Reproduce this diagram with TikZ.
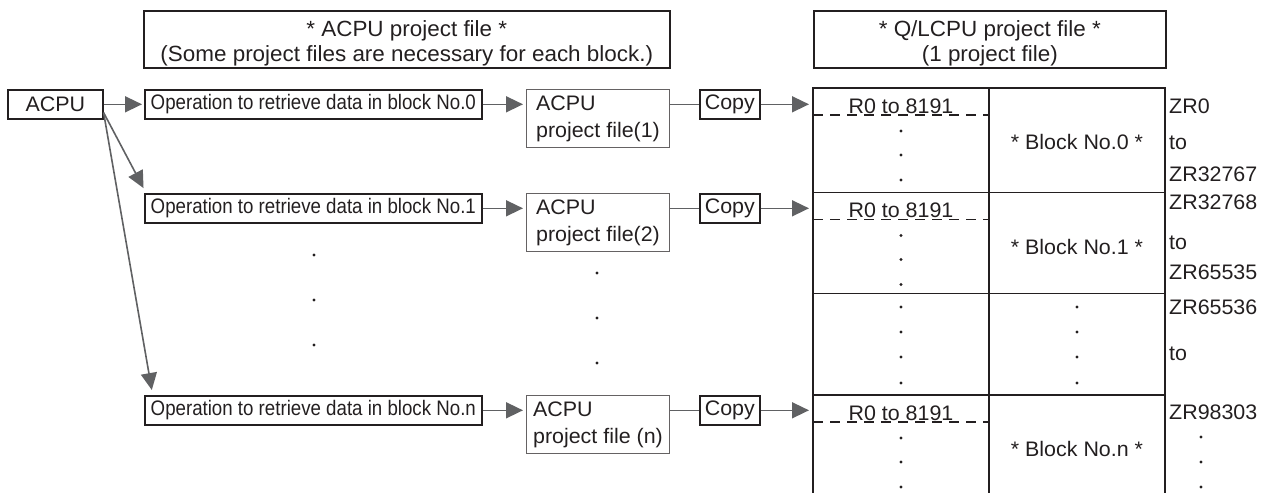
\documentclass[tikz,border=0pt]{standalone}
\usepackage{fontspec}
\setmainfont{Liberation Sans}[FakeStretch=1.02]
\newfontfamily\opfont{Liberation Sans}[FakeStretch=0.89]
\usetikzlibrary{arrows.meta}

\definecolor{linegray}{HTML}{606163}
\definecolor{ink}{HTML}{231F20}

\begin{document}
\begin{tikzpicture}[x=1pt, y=-1pt,
    every node/.style={font=\fontsize{21}{25}\selectfont, text=ink},
    hdr/.style={draw=ink, line width=1.6pt, anchor=north west, align=center, minimum height=57pt, inner sep=0pt, font=\fontsize{22}{25}\selectfont},
    opbox/.style={draw=ink, line width=1.6pt, anchor=north west, minimum width=337pt, minimum height=29pt, inner sep=0pt, font=\opfont\fontsize{21}{25}\selectfont},
    filebox/.style={draw=ink!70, line width=1pt, anchor=north west, minimum width=143pt, minimum height=58pt, inner sep=0pt, align=left, font=\fontsize{21}{27}\selectfont},
    copybox/.style={draw=ink, line width=1.6pt, anchor=north west, minimum width=60pt, minimum height=29pt, inner sep=0pt},
    conn/.style={draw=linegray, line width=1.6pt},
    arr/.style={conn, -{Triangle[length=17pt, width=16pt]}, shorten >=3pt},
    zrlbl/.style={anchor=base west, inner sep=0pt}
  ]
        \useasboundingbox (0,0) rectangle (1262,493);

        \node[hdr, minimum width=526pt] (hdracpu) at (143,10) {\rule{0pt}{23pt}* ACPU project file *\\(Some project files are necessary for each block.)};
        \node[hdr, minimum width=352pt] (hdrq) at (813,10) {\rule{0pt}{23pt}* Q/LCPU project file *\\(1 project file)};

        \node[draw=ink, line width=1.6pt, anchor=north west, minimum width=95pt, minimum height=29pt, inner sep=0pt] (acpu) at (7,89) {ACPU};
        \coordinate (tl) at (813,88);

        \foreach \r/\t/\f in {0/89/project file(1), 1/193/project file(2), n/395/project file (n)} {
          \node[opbox] (op\r) at (144,\t) {Operation to retrieve data in block No.\r};
          \node[filebox] (file\r) at (526,\t) {ACPU\\\f};
          \node[copybox] (copy\r) at (699,\t) {Copy};
          \draw[arr] (op\r) -- (file\r.west |- op\r);
          \draw[conn] (file\r.east |- op\r) -- (copy\r);
          \draw[arr, shorten >=4pt] (copy\r) -- (copy\r -| tl);
        }

        \coordinate (fork) at ([yshift=7pt]acpu.south east);
        \draw[arr, shorten >=2pt] (acpu) -- (op0);
        \draw[arr, shorten >=1pt] (fork) -- ([yshift=4pt]op1.north west);
        \draw[arr, shorten >=1pt] (fork) -- ([xshift=8pt, yshift=4pt]opn.north west);

        \foreach \y in {255, 300, 345} \fill[ink] (314,\y) circle (1.6pt);
        \foreach \y in {273, 318, 363} \fill[ink] (597,\y) circle (1.6pt);

        \draw[ink, line width=1.8pt] (813,493) -- (tl) -- (1165,88) -- (1165,493);
        \draw[ink, line width=1.8pt] (989,88) -- (989,493);
        \foreach \y in {192.5, 293.5, 395} \draw[ink, line width=1.8pt] (813,\y) -- (1165,\y);

        \foreach \b/\t in {0/88, 1/192.5, n/395} {
          \draw[ink, line width=1.5pt, dash pattern=on 10pt off 7pt] (813,\t+27) -- (989,\t+27);
          \node[anchor=base, inner sep=0pt] (rng\b) at (901,\t+25) {R0 to 8191};
          \node (blk\b) at (1077,\t+54) {* Block No.\b{} *};
          \foreach \d in {43, 67, 92} \fill[ink] (901,\t+\d) circle (1.6pt);
        }
        \foreach \y in {307, 332, 357, 383} {
          \fill[ink] (901,\y) circle (1.6pt);
          \fill[ink] (1077,\y) circle (1.6pt);
        }

        \foreach \t/\y [count=\i] in {ZR0/113, to/149, ZR32767/181, ZR32768/209, to/249, ZR65535/279, ZR65536/314, to/360, ZR98303/419}
          \node[zrlbl] (zr\i) at (1169,\y) {\t};
        \foreach \y in {437, 462, 487} \fill[ink] (1201,\y) circle (1.6pt);
      \end{tikzpicture}
\end{document}
